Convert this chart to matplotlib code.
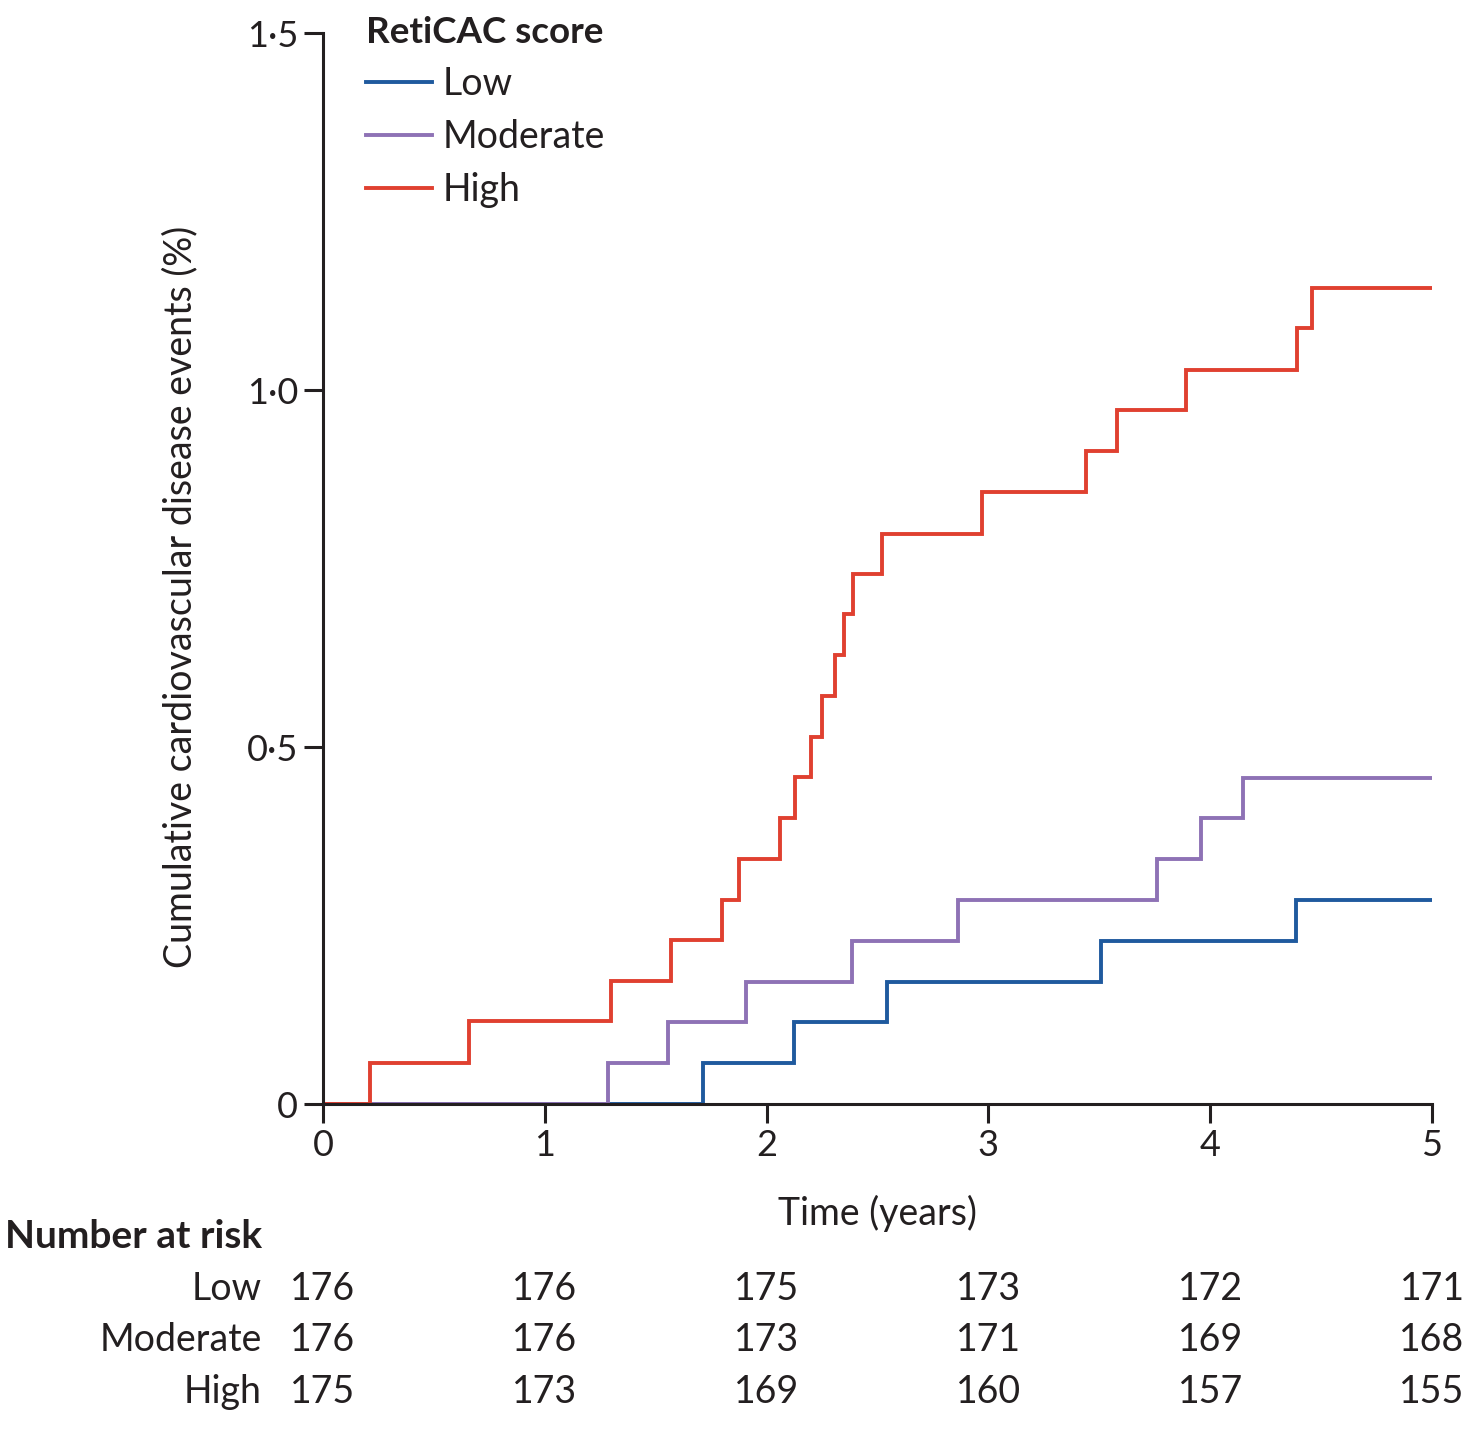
import matplotlib
matplotlib.use("Agg")
import matplotlib.pyplot as plt
import matplotlib.transforms as mtransforms

plt.rcParams['font.family'] = ['Lato', 'DejaVu Sans']

# Step data (time in years, cumulative events in %)
low_t = [0, 1.713, 2.124, 2.543, 3.508, 4.387, 5.0]
low_y = [0, 0.057, 0.115, 0.171, 0.228, 0.286, 0.286]

mod_t = [0, 1.285, 1.555, 1.907, 2.385, 2.863, 3.76, 3.96, 4.15, 5.0]
mod_y = [0, 0.057, 0.115, 0.171, 0.228, 0.286, 0.343, 0.401, 0.457, 0.457]

high_t = [0, 0.21, 0.66, 1.30, 1.57, 1.80, 1.876, 2.06, 2.13, 2.20, 2.25, 2.31,
          2.35, 2.39, 2.52, 2.97, 3.44, 3.58, 3.89, 4.39, 4.46, 5.0]
high_y = [0, 0.057, 0.116, 0.172, 0.230, 0.286, 0.343, 0.401, 0.458, 0.514, 0.571,
          0.629, 0.686, 0.742, 0.798, 0.857, 0.915, 0.972, 1.028, 1.087, 1.143, 1.143]

groups = ["Low", "Moderate", "High"]
colors = ["#1F5A9E", "#8E72B5", "#E04030"]

risk_times = [0, 1, 2, 3, 4, 5]
risk_low = [176, 176, 175, 173, 172, 171]
risk_mod = [176, 176, 173, 171, 169, 168]
risk_high = [175, 173, 169, 160, 157, 155]

xticks = [0, 1, 2, 3, 4, 5]
yticks = [0, 0.5, 1.0, 1.5]
ytick_labels = ["0", "0·5", "1·0", "1·5"]

INK = '#231f20'
FS = 27

fig = plt.figure(figsize=(14.74, 14.36), dpi=100)
ax = fig.add_axes([323/1474, 1 - 1104/1436, (1432-323)/1474, (1104-33)/1436])

series = [(low_t, low_y), (mod_t, mod_y), (high_t, high_y)]
for (t, y), name, c in zip(series, groups, colors):
    ax.step(t, y, where='post', color=c, lw=2.8, label=name, solid_joinstyle='miter')

ax.set_xlim(0, 5)
ax.set_ylim(0, 1.5)
ax.set_xticks(xticks)
ax.set_xticklabels([str(v) for v in xticks])
ax.set_yticks(yticks)
ax.set_yticklabels(ytick_labels)
for s in ['top', 'right']:
    ax.spines[s].set_visible(False)
for s in ['left', 'bottom']:
    ax.spines[s].set_linewidth(2.2)
    ax.spines[s].set_color(INK)
ax.tick_params(axis='both', direction='out', length=14, width=2.2, colors=INK,
               labelsize=26, pad=4, labelcolor=INK)
ax.set_xlabel("Time (years)", fontsize=FS, color=INK, labelpad=24)

fig.text(180/1474, 1 - 597/1436, "Cumulative cardiovascular disease events (%)",
         rotation=90, ha='center', va='center', fontsize=FS, color=INK)

leg = ax.legend(loc='upper left', bbox_to_anchor=(0.015, 1.040), frameon=False,
                title="RetiCAC score", fontsize=FS, handlelength=1.75,
                handletextpad=0.3, labelspacing=0.45, alignment='left',
                title_fontproperties={'weight': 'bold', 'size': 26.5}, borderpad=0.2)
for txt in leg.get_texts():
    txt.set_color(INK)
leg.get_title().set_color(INK)

# Number at risk table
trans = mtransforms.blended_transform_factory(ax.transData, fig.transFigure)
fig.text(5/1474, 1 - 1237/1436, "Number at risk", ha='left', va='center',
         fontsize=28, fontweight='bold', color=INK)
rows_y = [1 - 1289/1436, 1 - 1340/1436, 1 - 1392/1436]
for name, vals, yy in zip(groups, [risk_low, risk_mod, risk_high], rows_y):
    fig.text(262/1474, yy, name, ha='right', va='center', fontsize=FS, color=INK)
    for t, v in zip(risk_times, vals):
        ax.text(t, yy, str(v), transform=trans, ha='center', va='center',
                fontsize=FS, color=INK, clip_on=False)

fig.savefig("out.png", dpi=100, facecolor='white')
